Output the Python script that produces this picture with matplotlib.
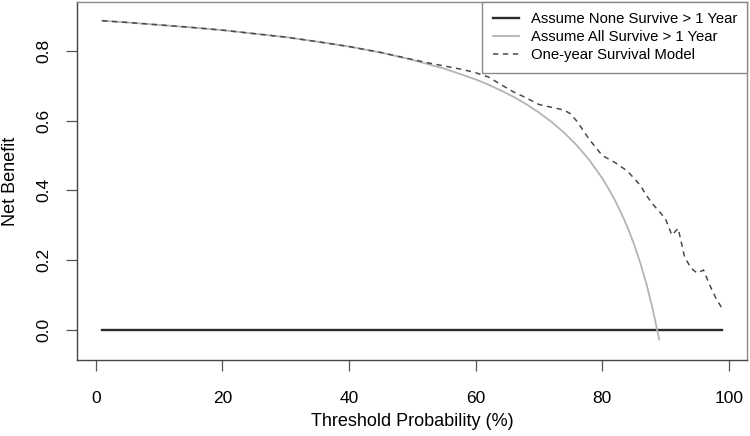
import matplotlib.pyplot as plt
import numpy as np

plt.rcParams['font.family'] = ['Liberation Sans', 'DejaVu Sans']

# threshold probability (%)
none_x = [1, 99]
none_y = [0.0, 0.0]

all_x = [1, 5, 10, 15, 20, 25, 30, 35, 40, 45, 50, 55, 60, 62, 64, 66, 68, 70, 72, 74, 76, 78,
         80, 81, 82, 83, 84, 85, 86, 87, 88, 89]
all_y = [0.886, 0.881, 0.874, 0.867, 0.859, 0.849, 0.839, 0.826, 0.812, 0.795, 0.774, 0.749,
         0.718, 0.703, 0.686, 0.668, 0.647, 0.623, 0.596, 0.565, 0.529, 0.486,
         0.435, 0.405, 0.372, 0.335, 0.294, 0.247, 0.193, 0.131, 0.058, -0.027]

model_x = [1, 5, 10, 15, 20, 25, 30, 35, 40, 45, 50, 52, 54, 56, 58, 60, 62, 64, 66, 68, 70, 72,
           74, 75, 76, 78, 80, 81, 82, 84, 85, 86, 87, 88, 89, 90, 91, 92, 93, 94, 95, 96, 97, 98, 99]
model_y = [0.886, 0.881, 0.874, 0.867, 0.859, 0.849, 0.839, 0.826, 0.812, 0.795, 0.775, 0.767,
           0.760, 0.753, 0.746, 0.737, 0.725, 0.703, 0.682, 0.665, 0.646, 0.638,
           0.630, 0.619, 0.598, 0.545, 0.500, 0.490, 0.480, 0.455, 0.435, 0.415, 0.385, 0.360,
           0.340, 0.318, 0.272, 0.291, 0.210, 0.178, 0.163, 0.172, 0.128, 0.090, 0.060]

labels = ["Assume None Survive > 1 Year", "Assume All Survive > 1 Year", "One-year Survival Model"]

fig = plt.figure(figsize=(7.5, 4.36), dpi=100)
ax = fig.add_axes([0.1031, 0.1743, 0.8933, 0.8211])

ax.plot(none_x, none_y, color='#2b2b2b', lw=1.7, label=labels[0])
ax.plot(all_x, all_y, color='#b4b4b4', lw=1.3, label=labels[1])
ax.plot(model_x, model_y, color='#4a4a4a', lw=1.1, ls=(0, (3.5, 3)), label=labels[2])

ax.set_xlim(-2.92, 102.92)
ax.set_ylim(-0.0859, 0.9396)
ax.set_xticks([0, 20, 40, 60, 80, 100])
ax.set_yticks([0.0, 0.2, 0.4, 0.6, 0.8])
ax.set_yticklabels(['0.0', '0.2', '0.4', '0.6', '0.8'], rotation=90, va='center')

ax.tick_params(axis='both', length=8, width=0.9, color='#555555', labelsize=12.5)
ax.tick_params(axis='x', pad=14)
ax.tick_params(axis='y', pad=11)
for s in ['top', 'right']:
    ax.spines[s].set_color('#8a8a8a')
for s in ['left', 'bottom']:
    ax.spines[s].set_color('#444444')
for s in ax.spines.values():
    s.set_linewidth(1.0)

ax.set_xlabel("Threshold Probability (%)", fontsize=13, labelpad=5.5)
ax.set_ylabel("Net Benefit", fontsize=13, labelpad=12)

leg = ax.legend(loc='upper right', fontsize=10.7, frameon=True, fancybox=False,
                borderaxespad=0, borderpad=0.7, labelspacing=0.26, handlelength=1.8,
                handletextpad=0.75)
leg.get_frame().set_edgecolor('#8a8a8a')
leg.get_frame().set_linewidth(1.0)
leg.get_frame().set_alpha(1)

fig.savefig("out.png", dpi=100)
